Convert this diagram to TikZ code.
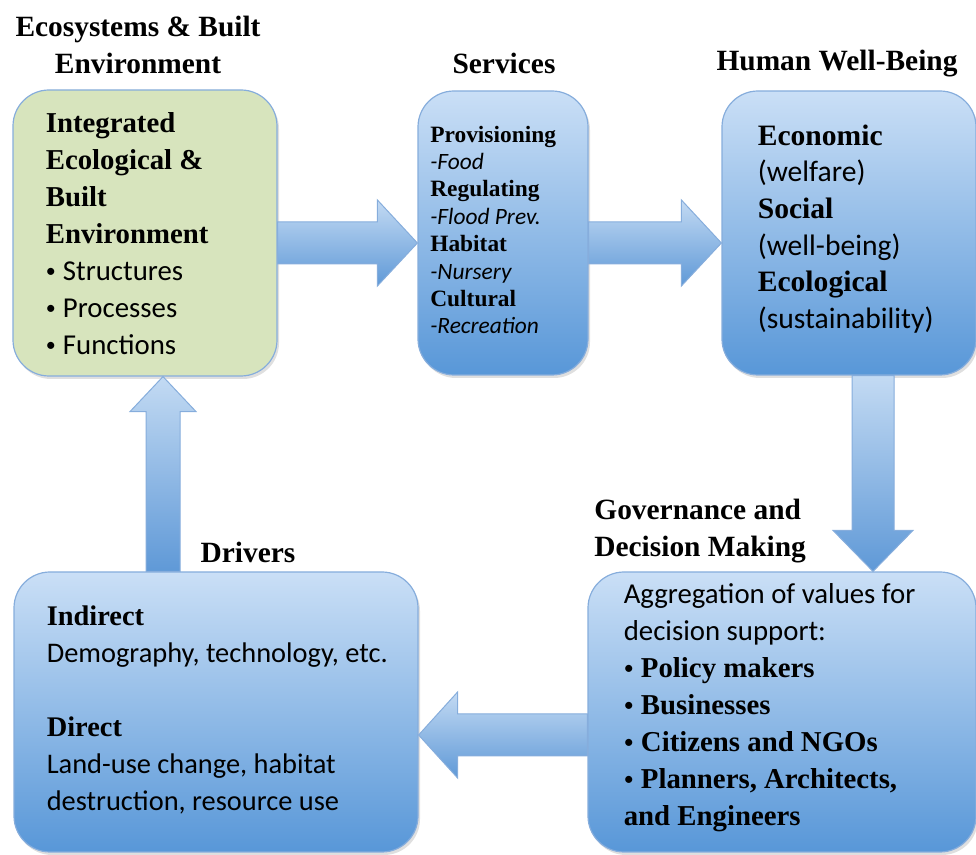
\documentclass[tikz,border=0pt]{standalone}
\usepackage{fontspec}
\setmainfont{Carlito}
\newfontfamily\headfont{Liberation Serif}
\usetikzlibrary{calc,shadows}

\definecolor{boxtop}{HTML}{CADFF6}
\definecolor{boxbot}{HTML}{5897D8}
\definecolor{boxline}{HTML}{86ADDC}
\definecolor{ecofill}{HTML}{D7E4BD}
\definecolor{arrtop}{HTML}{C3DAF3}
\definecolor{arrbot}{HTML}{5F99D7}

\newcommand{\hb}[1]{{\headfont\bfseries #1}}
\newcommand{\bul}{\raisebox{0.25ex}{\normalfont\fontsize{10}{10}\selectfont\textbullet}\hspace{0.25em}}

\begin{document}
\begin{tikzpicture}[x=0.5pt, y=-0.5pt,
    card/.style={draw=boxline, line width=0.6pt, rounded corners=18pt,
      drop shadow={shadow xshift=1pt, shadow yshift=-1.5pt, opacity=0.25}},
    bluecard/.style={card, top color=boxtop, bottom color=boxbot},
    ecocard/.style={card, fill=ecofill},
    body/.style={anchor=west, align=left, inner sep=0pt,
      font=\fontsize{14.4}{18.5}\selectfont},
    small/.style={anchor=west, align=left, inner sep=0pt,
      font=\fontsize{11.7}{13.7}\selectfont},
    head/.style={align=center, inner sep=0pt,
      font=\headfont\bfseries\fontsize{14.7}{18.5}\selectfont},
    fat/.style={draw=boxline, line width=0.5pt, top color=arrtop, bottom color=arrbot}]
  \useasboundingbox (0,0) rectangle (976,855);

  % boxes
  \node[ecocard, minimum width=132pt, minimum height=143pt] (eco) at (145,233) {};
  \node[bluecard, minimum width=85pt, minimum height=142pt] (serv) at (503,233) {};
  \node[bluecard, minimum width=127pt, minimum height=142pt] (hwb) at (849,233) {};
  \node[bluecard, minimum width=202pt, minimum height=140pt] (drv) at (216,712) {};
  \node[bluecard, minimum width=194pt, minimum height=140pt] (gov) at (782,712) {};

  % headings
  \node[head] (ecotitle) at (138,45) {Ecosystems \& Built\\Environment};
  \node[head] (servtitle) at (504,63) {Services};
  \node[head] (hwbtitle) at (837,64) {Human Well-Being};
  \node[head] (drvtitle) at (248,552) {Drivers};
  \node[head, anchor=west, align=left] (govtitle) at (594,531) {Governance and\\Decision Making};

  % box texts
  \node[body] (ecotext) at ($(eco.west)+(33,1)$) {\hb{Integrated}\\ \hb{Ecological \&}\\ \hb{Built}\\ \hb{Environment}\\
    \bul Structures\\ \bul Processes\\ \bul Functions};
  \node[small] (servtext) at ($(serv.west)+(12.5,-3)$) {\hb{Provisioning}\\ \textit{-Food}\\ \hb{Regulating}\\ \textit{-Flood Prev.}\\
    \hb{Habitat}\\ \textit{-Nursery}\\ \hb{Cultural}\\ \textit{-Recreation}};
  \node[body, font=\fontsize{14.8}{18.3}\selectfont] (hwbtext) at ($(hwb.west)+(36,-4)$) {\hb{Economic}\\ (welfare)\\ \hb{Social}\\ (well-being)\\
    \hb{Ecological}\\ (sustainability)};
  \node[body, font=\fontsize{14.2}{18.5}\selectfont] (drvtext) at ($(drv.west)+(33,-2)$) {\hb{Indirect}\\ Demography, technology, etc.\\[18.5pt]
    \hb{Direct}\\ Land-use change, habitat\\ destruction, resource use};
  \node[body] (govtext) at ($(gov.west)+(36,-4)$) {Aggregation of values for\\ decision support:\\ \hb{\bul Policy makers}\\
    \hb{\bul Businesses}\\ \hb{\bul Citizens and NGOs}\\ \hb{\bul Planners, Architects,}\\ \hb{and Engineers}};

  % block arrows
  \coordinate (a1) at ($(eco.east)+(0,10)$);
  \coordinate (b1) at ($(serv.west)+(0,10)$);
  \path[fat] ($(a1)+(0,-21)$) -- ($(b1)+(-40,-21)$) -- ($(b1)+(-40,-43)$) -- (b1)
    -- ($(b1)+(-40,43)$) -- ($(b1)+(-40,21)$) -- ($(a1)+(0,21)$) -- cycle;

  \coordinate (a2) at ($(serv.east)+(0,10)$);
  \coordinate (b2) at ($(hwb.west)+(0,10)$);
  \path[fat] ($(a2)+(0,-21)$) -- ($(b2)+(-40,-21)$) -- ($(b2)+(-40,-43)$) -- (b2)
    -- ($(b2)+(-40,43)$) -- ($(b2)+(-40,21)$) -- ($(a2)+(0,21)$) -- cycle;

  \coordinate (a3) at ($(hwb.south)+(24,0)$);
  \coordinate (b3) at ($(gov.north)+(91,0)$);
  \path[fat] ($(a3)+(-21,0)$) -- ($(b3)+(-21,-41)$) -- ($(b3)+(-40,-41)$) -- (b3)
    -- ($(b3)+(40,-41)$) -- ($(b3)+(21,-41)$) -- ($(a3)+(21,0)$) -- cycle;

  \coordinate (a4) at ($(gov.west)+(0,23)$);
  \coordinate (b4) at ($(drv.east)+(0,23)$);
  \path[fat] ($(a4)+(0,-21)$) -- ($(b4)+(39,-21)$) -- ($(b4)+(39,-43)$) -- (b4)
    -- ($(b4)+(39,43)$) -- ($(b4)+(39,21)$) -- ($(a4)+(0,21)$) -- cycle;

  \coordinate (a5) at ($(drv.north)+(-53,0)$);
  \coordinate (b5) at ($(eco.south)+(18,0)$);
  \path[fat] ($(a5)+(-17,0)$) -- ($(b5)+(-17,35)$) -- ($(b5)+(-33,35)$) -- (b5)
    -- ($(b5)+(33,35)$) -- ($(b5)+(17,35)$) -- ($(a5)+(17,0)$) -- cycle;
\end{tikzpicture}
\end{document}
